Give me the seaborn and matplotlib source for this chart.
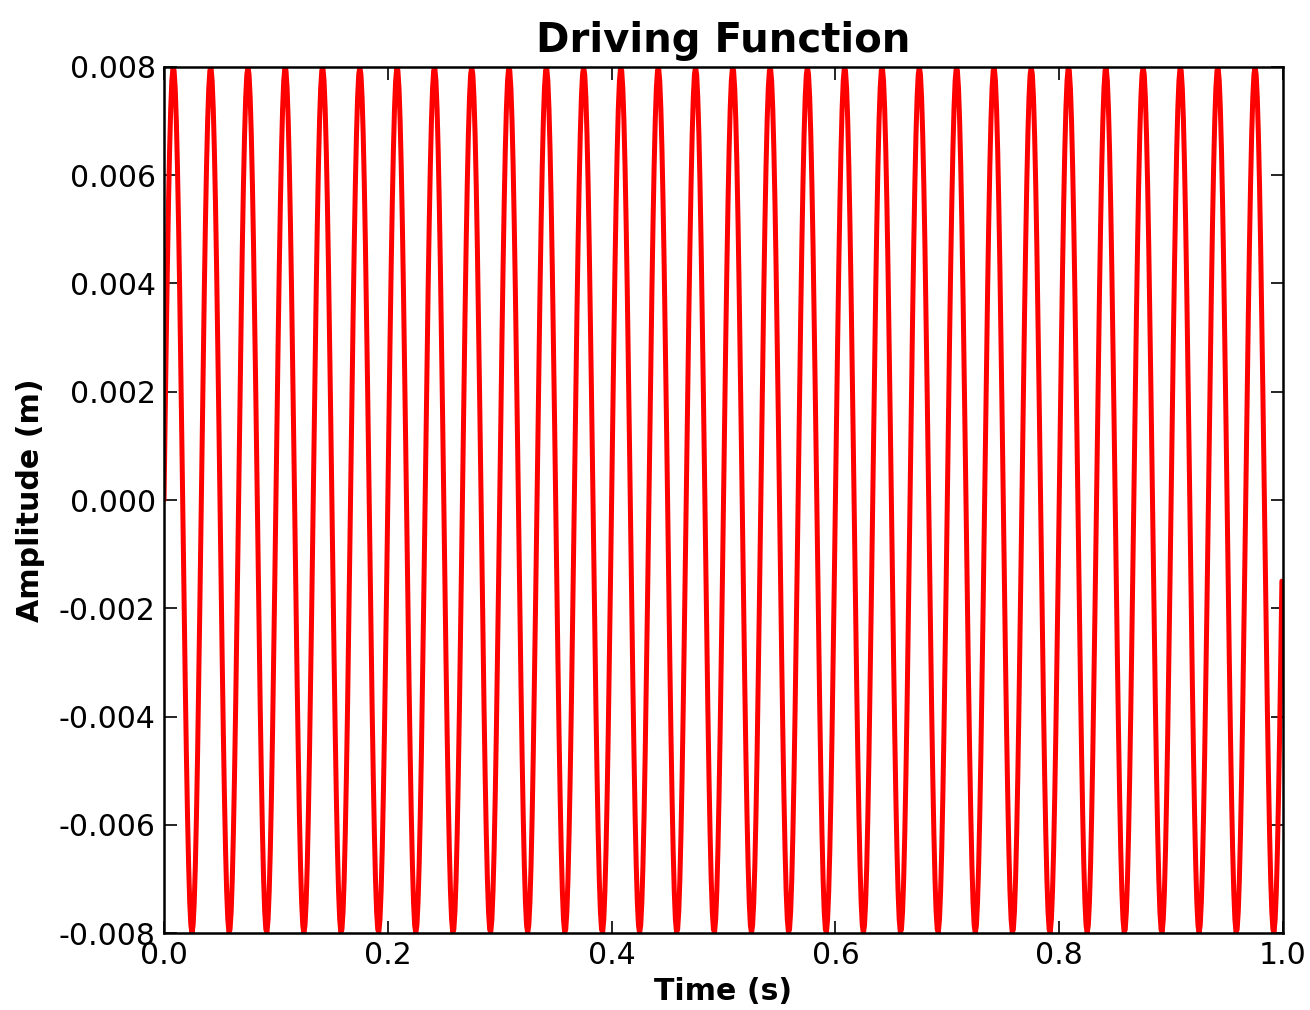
import numpy as np
import pandas as pd
import matplotlib
matplotlib.use("Agg")
import matplotlib.pyplot as plt
import seaborn as sns

# driving function: 30 cycles in 1 s, peak 0.008 m
amplitude = 0.008
frequency = 30.0
time_step = 0.001
t_start, t_end = 0.0, 1.0

x_ticks = [0.0, 0.2, 0.4, 0.6, 0.8, 1.0]
y_ticks = [-0.008, -0.006, -0.004, -0.002, 0.000, 0.002, 0.004, 0.006, 0.008]

time = np.arange(t_start, t_end, time_step)
df = pd.DataFrame({'time': time,
                   'amplitude': amplitude * np.sin(2 * np.pi * frequency * time)})

sns.set_style("ticks")
plt.rcParams['font.family'] = ['DejaVu Sans']
plt.rcParams['text.color'] = 'black'
plt.rcParams['axes.labelcolor'] = 'black'
plt.rcParams['xtick.color'] = 'black'
plt.rcParams['ytick.color'] = 'black'

fig = plt.figure(figsize=(13.1, 10.1), dpi=100)
ax = fig.add_axes([0.1252, 0.0762, 0.8542, 0.8575])

sns.lineplot(data=df, x='time', y='amplitude', color='red', linewidth=3.6,
             estimator=None, sort=False, ax=ax)

ax.set_xlim(0, 1.0)
ax.set_ylim(-0.008, 0.008)
ax.set_xticks(x_ticks)
ax.set_yticks(y_ticks)
ax.set_xticklabels(['{:.1f}'.format(v) for v in x_ticks])
ax.set_yticklabels(['{:.3f}'.format(v) for v in y_ticks])
ax.tick_params(direction='in', length=9, width=1.2, top=True, right=True,
               labelsize=21.5, pad=6)
for side in ['top', 'bottom', 'left', 'right']:
    ax.spines[side].set_visible(True)
    ax.spines[side].set_linewidth(1.8)
    ax.spines[side].set_color('black')

ax.set_title('Driving Function', fontsize=29, fontweight='bold', pad=11)
ax.set_xlabel('Time (s)', fontsize=21.6, fontweight='bold', labelpad=5)
ax.set_ylabel('Amplitude (m)', fontsize=21.6, fontweight='bold', labelpad=10)

fig.savefig('out.png', dpi=100, facecolor='white')
